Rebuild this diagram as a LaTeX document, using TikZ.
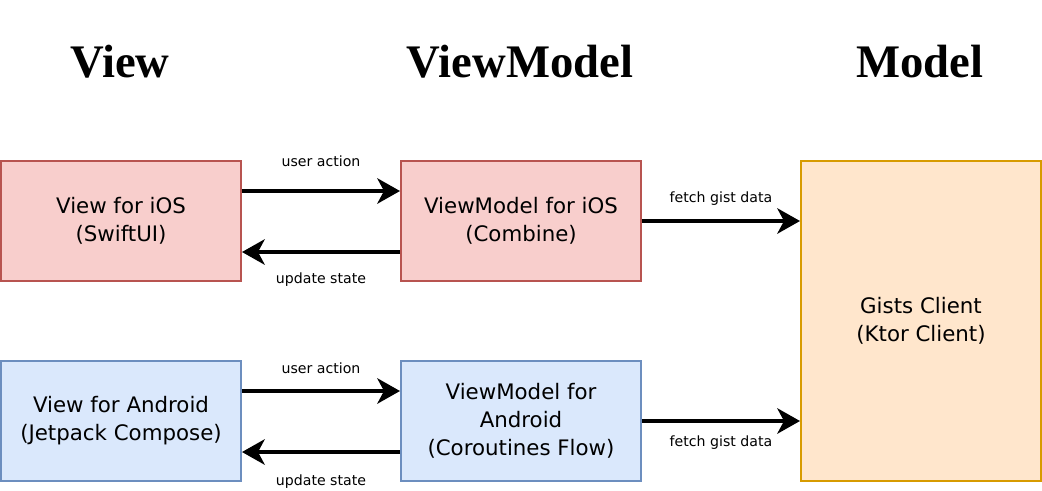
\documentclass[tikz,border=0pt]{standalone}
\usepackage{fontspec}
\setmainfont{DejaVu Sans}
\newfontfamily\headfont{Liberation Serif}
\usetikzlibrary{arrows.meta}
\definecolor{redfill}{HTML}{F8CECC}
\definecolor{redline}{HTML}{B85450}
\definecolor{bluefill}{HTML}{DAE8FC}
\definecolor{blueline}{HTML}{6C8EBF}
\definecolor{orangefill}{HTML}{FFE6CC}
\definecolor{orangeline}{HTML}{D79B00}
\tikzset{
  px/.style={x=0.75pt,y=-0.75pt},
  box/.style={rectangle,line width=1.5pt,minimum width=180pt,minimum height=90pt,
    align=center,inner sep=0pt,font=\fontsize{16}{21}\selectfont},
  redbox/.style={box,draw=redline,fill=redfill},
  bluebox/.style={box,draw=blueline,fill=bluefill},
  modelbox/.style={box,draw=orangeline,fill=orangefill,minimum height=240pt},
  flow/.style={line width=3pt,-{Stealth[length=17pt,width=19pt,inset=5pt]}},
  lbl/.style={font=\fontsize{10.6}{12}\selectfont,inner sep=0pt,anchor=center},
  head/.style={font=\headfont\bfseries\fontsize{35}{40}\selectfont,anchor=base,inner sep=0pt}
}
\begin{document}
\begin{tikzpicture}[px]
\useasboundingbox (0,0) rectangle (1042,490);
\node[head] (hview) at (120,77) {View};
\node[head] (hvm) at (520,77) {ViewModel};
\node[head] (hmodel) at (920,77) {Model};

\node[redbox] (vios) at (121,221) {View for iOS\\(SwiftUI)};
\node[redbox] (vmios) at (521,221) {ViewModel for iOS\\(Combine)};
\node[bluebox] (vand) at (121,421) {View for Android\\(Jetpack Compose)};
\node[bluebox] (vmand) at (521,421) {ViewModel for\\Android\\(Coroutines Flow)};
\node[modelbox] (model) at (921,321) {Gists Client\\(Ktor Client)};

\draw[flow] ([yshift=22.5pt]vios.east) -- node[lbl,yshift=22.5pt] (l1) {user action} ([yshift=22.5pt]vmios.west);
\draw[flow] ([yshift=-23.25pt]vmios.west) -- node[lbl,yshift=-21pt] (l2) {update state} ([yshift=-23.25pt]vios.east);
\draw[flow] (vmios.east) -- node[lbl,yshift=16.5pt] (l3) {fetch gist data} (vmios.east -| model.west);

\draw[flow] ([yshift=22.5pt]vand.east) -- node[lbl,yshift=17.25pt] (l4) {user action} ([yshift=22.5pt]vmand.west);
\draw[flow] ([yshift=-23.25pt]vmand.west) -- node[lbl,yshift=-22.5pt] (l5) {update state} ([yshift=-23.25pt]vand.east);
\draw[flow] (vmand.east) -- node[lbl,yshift=-16.5pt] (l6) {fetch gist data} (vmand.east -| model.west);
\end{tikzpicture}
\end{document}
